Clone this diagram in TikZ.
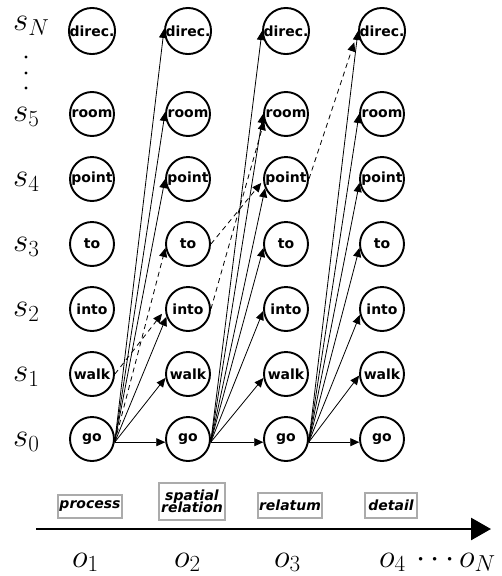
\RequirePackage{fix-cm}
\documentclass[tikz,border=0pt]{standalone}
\usepackage{fontspec}
\newfontfamily\labelfont{DejaVu Sans}
\usetikzlibrary{arrows.meta}
\tikzset{
  stnode/.style={circle, draw, line width=1.9pt, minimum size=44pt, inner sep=0pt,
    font=\labelfont\bfseries\fontsize{14}{16}\selectfont},
  trans/.style={line width=0.8pt, -{Triangle[length=9pt,width=8pt]}},
  alt/.style={trans, dash pattern=on 5pt off 4pt},
  tag/.style={draw=black!33, line width=2pt, inner sep=1pt, align=center,
    font=\labelfont\bfseries\itshape\fontsize{14}{15.5}\selectfont},
  lab/.style={anchor=base west, inner sep=0pt, font=\fontsize{33}{36}\selectfont},
  dotmark/.style={fill=black, draw=none}
}
\begin{document}
\begin{tikzpicture}[x=1pt, y=-1pt]
  \useasboundingbox (0,0) rectangle (502,576);

  % state nodes: one column per observation
  \foreach \c/\x in {1/92, 2/188, 3/286, 4/382} {
    \foreach \r/\y/\w in {go/439/go, walk/374/walk, into/309/into, to/244/to,
                          point/179/point, room/114/room, direc/31/direc.} {
      \node[stnode] (\r\c) at (\x,\y) {\w};
    }
  }

  % state labels
  \node[lab] (sN) at (13,30.5) {$s_N$};
  \node[lab] (s5) at (13,121.5) {$s_5$};
  \node[lab] (s4) at (13,186.5) {$s_4$};
  \node[lab] (s3) at (13,251.5) {$s_3$};
  \node[lab] (s2) at (13,316.5) {$s_2$};
  \node[lab] (s1) at (13,381.5) {$s_1$};
  \node[lab] (s0) at (13,446.5) {$s_0$};
  \fill[dotmark] (26,57) circle (1.6);
  \fill[dotmark] (26,73) circle (1.6);
  \fill[dotmark] (26,88) circle (1.6);

  % transitions from go (column 1)
  \draw[trans] (go1.-8) -- (go2.188);
  \draw[trans] (go1.-8) -- (walk2.190);
  \draw[trans] (go1.-8) -- (into2.200);
  \draw[trans] (go1.-8) -- (point2.180);
  \draw[trans] (go1.-8) -- (room2.175);
  \draw[trans] (go1.-8) -- (direc2.175);
  \draw[alt] (go1.-8) -- (to2.190);
  \draw[alt, shorten >=5pt] (walk1.east) -- (into2.182);

  % transitions from go (column 2)
  \draw[trans] (go2.-8) -- (go3.188);
  \draw[trans] (go2.-8) -- (walk3.190);
  \draw[trans] (go2.-8) -- (into3.185);
  \draw[trans] (go2.-8) -- (to3.190);
  \draw[trans] (go2.-8) -- (point3.204);
  \draw[trans] (go2.-8) -- (room3.180);
  \draw[trans] (go2.-8) -- (direc3.180);
  \draw[alt, shorten >=3pt] (to2.east) -- (point3.184);
  \draw[alt] (into2.east) -- (room3.198);

  % transitions from go (column 3)
  \draw[trans] (go3.-8) -- (go4.188);
  \draw[trans] (go3.-8) -- (walk4.184);
  \draw[trans] (go3.-8) -- (into4.195);
  \draw[trans] (go3.-8) -- (to4.190);
  \draw[trans] (go3.-8) -- (point4.190);
  \draw[trans] (go3.-8) -- (room4.180);
  \draw[trans] (go3.-8) -- (direc4.180);
  \draw[alt, shorten >=12pt] (point3.east) -- (direc4.180);

  % phrase categories
  \node[tag, minimum width=64pt, minimum height=23pt] (t1) at (90,506.5) {process};
  \node[tag, minimum width=66pt, minimum height=37pt] (t2) at (192,501.5) {spatial\\[-3pt]relation};
  \node[tag, minimum width=64pt, minimum height=25pt] (t3) at (290,505.5) {relatum};
  \node[tag, minimum width=52pt, minimum height=25pt] (t4) at (391,505.5) {detail};

  % observation axis
  \coordinate (axL) at (36,529);
  \coordinate (axR) at (491,529);
  \draw[line width=2.7pt, -{Triangle[length=20pt,width=22pt]}] (axL) -- (axR);

  % observation labels
  \node[lab] (o1) at (72,567) {$o_1$};
  \node[lab] (o2) at (174,567) {$o_2$};
  \node[lab] (o3) at (274,567) {$o_3$};
  \node[lab] (o4) at (379,567) {$o_4$};
  \node[lab] (odots) at (416,567) {$\cdots$};
  \node[lab] (oN) at (459,567) {$o_N$};
\end{tikzpicture}
\end{document}
